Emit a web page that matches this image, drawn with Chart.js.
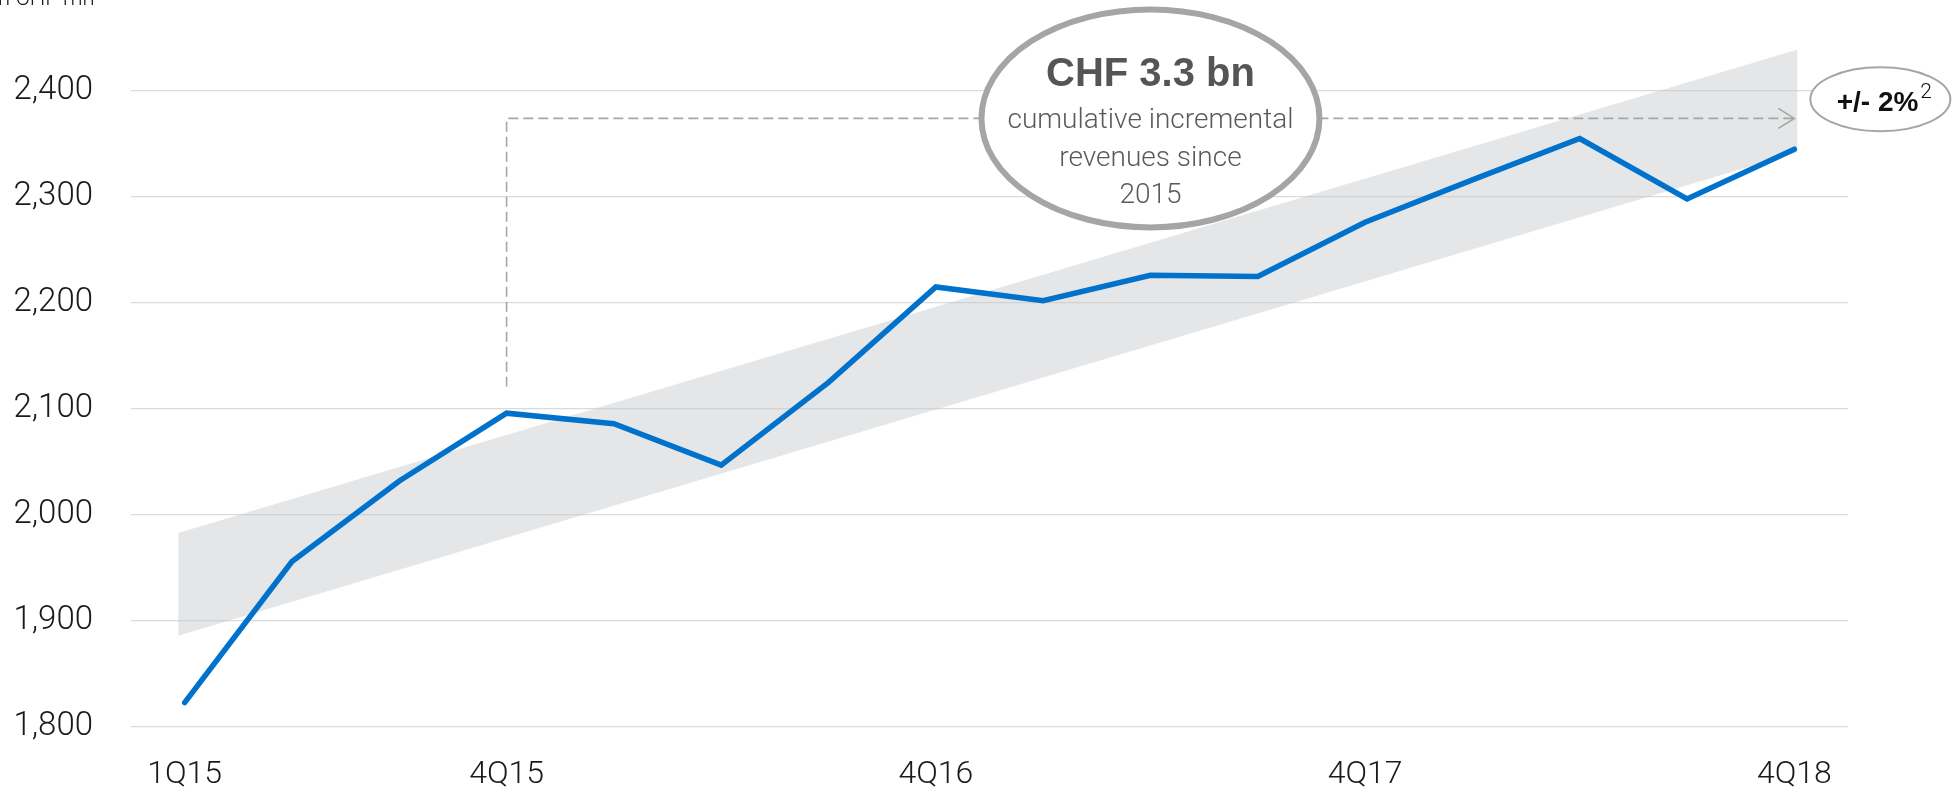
<!DOCTYPE html>
<html>
<head>
<meta charset="utf-8">
<title>Revenues</title>
<script src="https://cdn.jsdelivr.net/npm/chart.js@4.4.1/dist/chart.umd.min.js"></script>
<style>
	html, body { margin: 0; padding: 0; background: #fff; }
	#wrap { position: relative; width: 1955px; height: 787px; }
</style>
</head>
<body>
<div id="wrap"><canvas id="chart"></canvas></div>
<script>
const quarters = ['1Q15', '2Q15', '3Q15', '4Q15', '1Q16', '2Q16', '3Q16', '4Q16',
	'1Q17', '2Q17', '3Q17', '4Q17', '1Q18', '2Q18', '3Q18', '4Q18'];
const revenues = [1823, 1956, 2032, 2096, 2086, 2047, 2125, 2215,
	2202, 2226, 2225, 2276, 2316, 2355, 2298, 2345];
const tickQuarters = [0, 3, 7, 11, 15];
const yTicks = [1800, 1900, 2000, 2100, 2200, 2300, 2400];

// +/- 2% corridor, start and end of the band
const bandX = [-0.06, 15.03];
const bandUpper = [1983, 2439];
const bandLower = [1886, 2342];

// dashed arrow from 4Q15 to the 4Q18 level
const arrowX = [3, 3, 15];
const arrowY = [2121, 2374, 2374];

const unitLabel = 'in CHF mn';
const noteTitle = 'CHF 3.3 bn';
const noteLines = ['cumulative incremental', 'revenues since', '2015'];
const rangeText = '+/- 2%';
const rangeSup = '2';

const FONT = "Roboto, 'Liberation Sans', sans-serif";
const INK = '#1a1a1a';

const toPoints = (xs, ys) => xs.map((x, i) => ({ x, y: ys[i] }));

// keep the plot area fixed: no extra room for edge labels
const noEdgePadding = (scale) => {
	scale.paddingTop = 0;
	scale.paddingBottom = 0;
	scale.paddingLeft = 0;
	scale.paddingRight = 0;
};

const notesPlugin = {
	id: 'notes',
	afterDatasetsDraw(chart) {
		const { ctx, scales } = chart;
		const xs = scales.x;
		const ys = scales.y;

		// arrow head at the end of the dashed line
		const last = arrowX.length - 1;
		const ax = xs.getPixelForValue(arrowX[last]);
		const ay = ys.getPixelForValue(arrowY[last]);
		ctx.save();
		ctx.strokeStyle = '#a6a6a6';
		ctx.lineWidth = 1.6;
		ctx.beginPath();
		ctx.moveTo(ax - 16, ay - 10);
		ctx.lineTo(ax, ay);
		ctx.lineTo(ax - 16, ay + 10);
		ctx.stroke();

		// big callout
		const cx = xs.getPixelForValue(9);
		const cy = ys.getPixelForValue(2374);
		ctx.beginPath();
		ctx.ellipse(cx, cy, 169, 109, 0, 0, Math.PI * 2);
		ctx.fillStyle = '#fff';
		ctx.fill();
		ctx.lineWidth = 6;
		ctx.strokeStyle = '#a5a5a5';
		ctx.stroke();

		ctx.textAlign = 'center';
		ctx.textBaseline = 'alphabetic';
		ctx.fillStyle = '#555';
		ctx.font = `bold 40px 'Liberation Sans', Arial, sans-serif`;
		ctx.fillText(noteTitle, cx, cy - 32);
		ctx.font = `300 28px ${FONT}`;
		ctx.fillStyle = '#5a5a5a';
		const offs = [10, 48, 85];
		noteLines.forEach((t, i) => ctx.fillText(t, cx, cy + offs[i]));

		// small range callout on the right
		const rx = xs.getPixelForValue(15) + 86;
		const ry = ys.getPixelForValue(2392);
		ctx.beginPath();
		ctx.ellipse(rx, ry, 70, 32, 0, 0, Math.PI * 2);
		ctx.fillStyle = '#fff';
		ctx.fill();
		ctx.lineWidth = 2;
		ctx.strokeStyle = '#a6a6a6';
		ctx.stroke();

		ctx.font = `bold 28px 'Liberation Sans', Arial, sans-serif`;
		const w1 = ctx.measureText(rangeText).width;
		ctx.font = `300 21px ${FONT}`;
		const w2 = ctx.measureText(rangeSup).width;
		const left = rx + 4 - (w1 + w2 + 2) / 2;
		ctx.textAlign = 'left';
		ctx.fillStyle = '#111';
		ctx.font = `bold 28px 'Liberation Sans', Arial, sans-serif`;
		ctx.fillText(rangeText, left, ry + 12);
		ctx.font = `300 21px ${FONT}`;
		ctx.fillText(rangeSup, left + w1 + 2, ry - 1);

		// unit label, top left
		ctx.font = `300 22px ${FONT}`;
		ctx.fillStyle = INK;
		ctx.fillText(unitLabel, -7, 5);
		ctx.restore();
	},
};

new Chart(document.getElementById('chart'), {
	type: 'line',
	data: {
		datasets: [
			{
				data: toPoints(quarters.map((q, i) => i), revenues),
				borderColor: '#0072cc',
				borderWidth: 5.5,
				borderCapStyle: 'round',
				borderJoinStyle: 'miter',
				pointRadius: 0,
				tension: 0,
				fill: false,
				order: 0,
			},
			{
				data: toPoints(arrowX, arrowY),
				borderColor: '#a6a6a6',
				borderWidth: 1.6,
				borderDash: [10, 5],
				pointRadius: 0,
				tension: 0,
				fill: false,
				order: 1,
			},
			{
				data: toPoints(bandX, bandUpper),
				borderWidth: 0,
				borderColor: 'rgba(0,0,0,0)',
				pointRadius: 0,
				fill: false,
				order: 2,
			},
			{
				data: toPoints(bandX, bandLower),
				borderWidth: 0,
				borderColor: 'rgba(0,0,0,0)',
				backgroundColor: 'rgba(196, 199, 204, 0.45)',
				pointRadius: 0,
				fill: '-1',
				order: 3,
			},
		],
	},
	options: {
		responsive: true,
		maintainAspectRatio: false,
		animation: false,
		layout: { padding: { top: 6, right: 107, left: 0, bottom: 0 } },
		plugins: { legend: { display: false }, tooltip: { enabled: false } },
		scales: {
			x: {
				type: 'linear',
				min: -0.5,
				max: 15.5,
				afterBuildTicks: (scale) => { scale.ticks = tickQuarters.map((v) => ({ value: v })); },
				afterFit: (scale) => { scale.height = 60; noEdgePadding(scale); },
				grid: { display: false, drawTicks: false },
				border: { display: false },
				ticks: {
					autoSkip: false,
					maxRotation: 0,
					padding: 29,
					color: INK,
					font: { family: FONT, size: 32, weight: '300' },
					callback: (v) => quarters[v],
				},
			},
			y: {
				min: 1800,
				max: 2480,
				afterBuildTicks: (scale) => { scale.ticks = yTicks.map((v) => ({ value: v })); },
				afterFit: (scale) => { scale.width = 131; noEdgePadding(scale); },
				grid: { color: '#dadada', lineWidth: 1.3, drawTicks: false },
				border: { display: false },
				ticks: {
					padding: 38,
					color: INK,
					font: { family: FONT, size: 33, weight: '300' },
					callback: (v) => v.toLocaleString('en-US'),
				},
			},
		},
	},
	plugins: [notesPlugin],
});
</script>
</body>
</html>
